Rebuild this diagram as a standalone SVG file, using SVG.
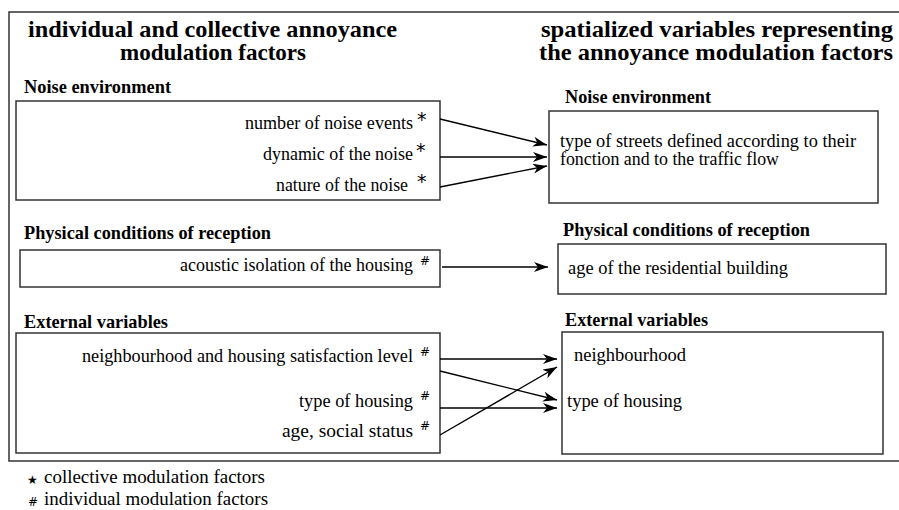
<svg xmlns="http://www.w3.org/2000/svg" width="899" height="510" viewBox="0 0 899 510">
<style>
.box{fill:#fff;stroke:#333;stroke-width:1.5}
.t{fill:#000}
.title{font-size:24px;font-weight:bold}
.head{font-size:19px;font-weight:bold}
.item{font-size:19px}
.sup{font-family:"DejaVu Sans",sans-serif;font-size:19px;fill:#000}
.hash{font-family:"DejaVu Sans",sans-serif;font-size:12px;fill:#000}
.conn{stroke:#000;stroke-width:1.4;fill:none;marker-end:url(#ah)}
</style>
<defs>
<marker id="ah" markerUnits="userSpaceOnUse" markerWidth="16" markerHeight="12" refX="14" refY="5" orient="auto">
<path d="M0,0 L14,5 L0,10 L4,5 z" fill="#000"/>
</marker>
</defs>
<rect width="899" height="510" fill="#fff"/>
<g id="frame">
<path d="M905,12 H9 V461 H905" fill="none" stroke="#333" stroke-width="1.5"/>
</g>
<g font-family="Liberation Serif, serif">
<g id="titles">
<text class="t title" x="28" y="37" textLength="369" lengthAdjust="spacingAndGlyphs">individual and collective annoyance</text>
<text class="t title" x="120" y="60" textLength="186" lengthAdjust="spacingAndGlyphs">modulation factors</text>
<text class="t title" x="541" y="37" textLength="352" lengthAdjust="spacingAndGlyphs">spatialized variables representing</text>
<text class="t title" x="539" y="60" textLength="354" lengthAdjust="spacingAndGlyphs">the annoyance modulation factors</text>
</g>
<g id="left-noise">
<text class="t head" x="24" y="93" textLength="147" lengthAdjust="spacingAndGlyphs">Noise environment</text>
<rect class="box" x="16" y="101" width="424" height="99"/>
<text class="t item" x="413" y="129" text-anchor="end" textLength="168" lengthAdjust="spacingAndGlyphs">number of noise events</text>
<text class="sup" x="417" y="126">*</text>
<text class="t item" x="413" y="160" text-anchor="end" textLength="150" lengthAdjust="spacingAndGlyphs">dynamic of the noise</text>
<text class="sup" x="416" y="157">*</text>
<text class="t item" x="408" y="191" text-anchor="end" textLength="132" lengthAdjust="spacingAndGlyphs">nature of the noise</text>
<text class="sup" x="417" y="188">*</text>
</g>
<g id="right-noise">
<text class="t head" x="565" y="103" textLength="146" lengthAdjust="spacingAndGlyphs">Noise environment</text>
<rect class="box" x="549" y="111" width="329" height="92"/>
<text class="t item" x="560" y="147" textLength="296" lengthAdjust="spacingAndGlyphs">type of streets defined according to their</text>
<text class="t item" x="560" y="165" textLength="219" lengthAdjust="spacingAndGlyphs">fonction and to the traffic flow</text>
</g>
<g id="left-physical">
<text class="t head" x="24" y="239" textLength="247" lengthAdjust="spacingAndGlyphs">Physical conditions of reception</text>
<rect class="box" x="20" y="250" width="420" height="37"/>
<text class="t item" x="413" y="271" text-anchor="end" textLength="233" lengthAdjust="spacingAndGlyphs">acoustic isolation of the housing</text>
<text class="hash" x="420" y="265">#</text>
</g>
<g id="right-physical">
<text class="t head" x="563" y="236" textLength="247" lengthAdjust="spacingAndGlyphs">Physical conditions of reception</text>
<rect class="box" x="558" y="244" width="328" height="50"/>
<text class="t item" x="568" y="274" textLength="220" lengthAdjust="spacingAndGlyphs">age of the residential building</text>
</g>
<g id="left-external">
<text class="t head" x="24" y="328" textLength="144" lengthAdjust="spacingAndGlyphs">External variables</text>
<rect class="box" x="16" y="333" width="424" height="120"/>
<text class="t item" x="413" y="362" text-anchor="end" textLength="331" lengthAdjust="spacingAndGlyphs">neighbourhood and housing satisfaction level</text>
<text class="hash" x="420" y="356">#</text>
<text class="t item" x="413" y="407" text-anchor="end" textLength="114" lengthAdjust="spacingAndGlyphs">type of housing</text>
<text class="hash" x="420" y="400">#</text>
<text class="t item" x="413" y="437" text-anchor="end" textLength="131" lengthAdjust="spacingAndGlyphs">age, social status</text>
<text class="hash" x="420" y="430">#</text>
</g>
<g id="right-external">
<text class="t head" x="565" y="326" textLength="143" lengthAdjust="spacingAndGlyphs">External variables</text>
<rect class="box" x="562" y="332" width="321" height="122"/>
<text class="t item" x="574" y="361" textLength="112" lengthAdjust="spacingAndGlyphs">neighbourhood</text>
<text class="t item" x="567" y="407" textLength="115" lengthAdjust="spacingAndGlyphs">type of housing</text>
</g>
<g id="legend">
<text class="hash" x="27" y="484" font-size="10">★</text>
<text class="t item" x="44" y="483" textLength="221" lengthAdjust="spacingAndGlyphs">collective modulation factors</text>
<text class="hash" x="28" y="506">#</text>
<text class="t item" x="44" y="505" textLength="224" lengthAdjust="spacingAndGlyphs">individual modulation factors</text>
</g>
</g>
<g id="connectors">
<line class="conn" x1="440" y1="119" x2="547" y2="145"/>
<line class="conn" x1="440" y1="157" x2="547" y2="157"/>
<line class="conn" x1="440" y1="187" x2="547" y2="166"/>
<line class="conn" x1="442" y1="267" x2="548" y2="267"/>
<line class="conn" x1="440" y1="359" x2="557" y2="359"/>
<line class="conn" x1="440" y1="371" x2="557" y2="400"/>
<line class="conn" x1="440" y1="408" x2="557" y2="408"/>
<line class="conn" x1="440" y1="435" x2="557" y2="367"/>
</g>
</svg>
